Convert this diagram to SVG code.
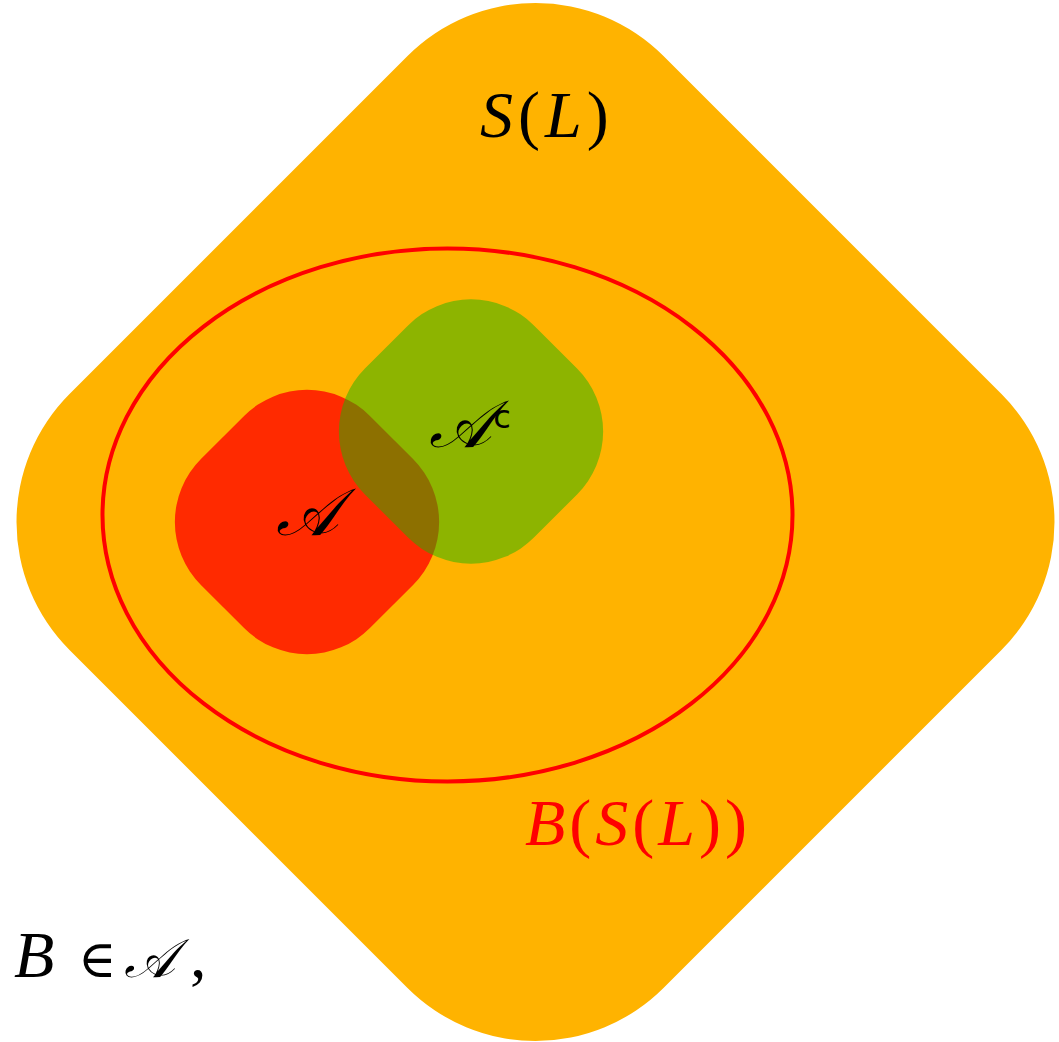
<svg xmlns="http://www.w3.org/2000/svg" width="1059" height="1042" viewBox="0 0 1059 1042">
<style>
.m{font-family:"Liberation Serif","DejaVu Serif",serif;font-size:66px;}
.i{font-style:italic;}
.scr{font-family:"DejaVu Serif","Liberation Serif",serif;font-style:italic;}
</style>
<rect width="1059" height="1042" fill="#ffffff"/>
<g id="space">
<rect x="115.5" y="102" width="840" height="840" rx="181" fill="#FFB300" transform="rotate(45 535.5 522)"/>
<text class="m" x="480" y="137" letter-spacing="5"><tspan class="i">S</tspan>(<tspan class="i">L</tspan>)</text>
</g>
<g id="borel">
<ellipse cx="447.5" cy="515" rx="345" ry="266.5" fill="none" stroke="#FF0000" stroke-width="4"/>
<text class="m" x="525" y="845" letter-spacing="4" fill="#FF0000"><tspan class="i">B</tspan>(<tspan class="i">S</tspan>(<tspan class="i">L</tspan>))</text>
</g>
<g id="A">
<rect x="187.5" y="402.5" width="239" height="239" rx="89" fill="#FF2A00" transform="rotate(45 307 522)"/>
<text class="m scr" x="307" y="535" text-anchor="middle" font-size="50">𝒜</text>
</g>
<g id="Ac">
<rect x="351.5" y="312" width="239" height="239" rx="89" fill="#1FB400" fill-opacity="0.51" transform="rotate(45 471 431.5)"/>
<text class="m scr" x="460" y="447" text-anchor="middle" font-size="50">𝒜</text>
<text x="502" y="428" text-anchor="middle" font-family="'DejaVu Sans',sans-serif" font-size="32">c</text>
</g>
<g id="caption">
<text class="m" y="977" font-size="62"><tspan class="i" x="14">B</tspan><tspan x="78" font-size="52">∈</tspan><tspan class="scr" x="124" font-size="54">𝒜</tspan><tspan x="190">,</tspan></text>
</g>
</svg>
